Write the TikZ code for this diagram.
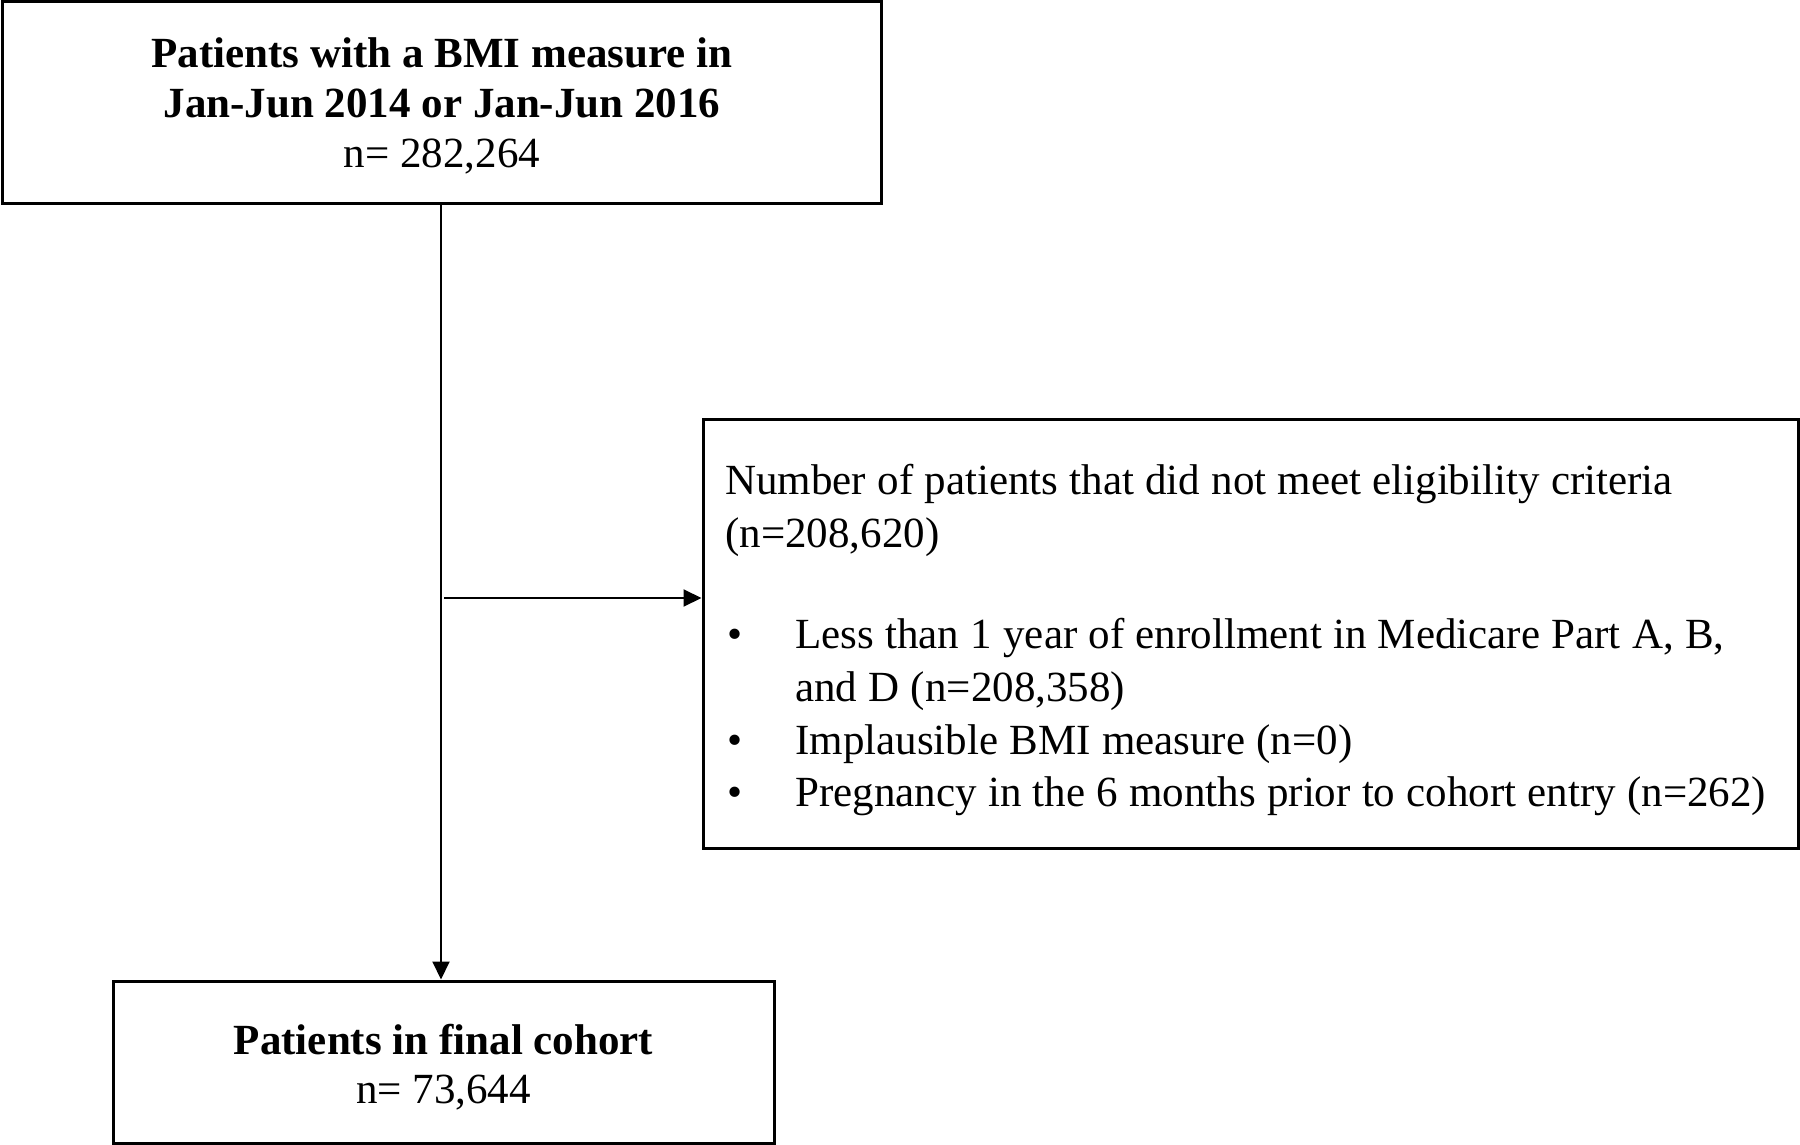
\documentclass[tikz,border=0pt]{standalone}
\usepackage{fontspec}
\setmainfont{Liberation Serif}
\newfontfamily\tightfont[WordSpace=1.045]{Liberation Serif}
\usetikzlibrary{arrows.meta}
\begin{document}
\begin{tikzpicture}[x=0.5pt,y=-0.5pt,
  box/.style={draw, line width=1.5pt, inner sep=0pt, rectangle},
  arr/.style={-{Triangle[length=9pt,width=8.5pt]}, line width=1pt},
  txt/.style={inner sep=0pt, align=center}]
\useasboundingbox (0,0) rectangle (1800,1145);
% boxes
\node[box, minimum width=439.5pt, minimum height=101pt] (top) at (442,102.5) {};
\node[box, minimum width=547.5pt, minimum height=214.5pt] (excl) at (1250.5,633.5) {};
\node[box, minimum width=330.5pt, minimum height=81pt] (final) at (443.5,1062) {};
% texts
\node[txt, font=\fontsize{21.5}{25}\selectfont] (toptext) at (442,106)
  {\textbf{Patients with a BMI measure in}\\\textbf{Jan-Jun 2014 or Jan-Jun 2016}\\n= 282,264};
\node[inner sep=0pt, anchor=west, align=left, font=\tightfont\fontsize{21.5}{26.3}\selectfont] (excltext) at (725,640)
  {Number of patients that did not meet eligibility criteria\\
   (n=208,620)\\[24.6pt]
   \makebox[35pt][l]{\hspace{1pt}\textbullet}Less than 1 year of enrollment in Medicare Part A, B,\\
   \hspace{35pt}and D (n=208,358)\\
   \makebox[35pt][l]{\hspace{1pt}\textbullet}Implausible BMI measure (n=0)\\
   \makebox[35pt][l]{\hspace{1pt}\textbullet}Pregnancy in the 6 months prior to cohort entry (n=262)};
\node[txt, font=\fontsize{21.5}{24.5}\selectfont] (finaltext) at (443.5,1067)
  {\textbf{Patients in final cohort}\\n= 73,644};
% connectors
\coordinate (vx) at (441,0);
\coordinate (hs) at (444,598);
\draw[arr] (top.south -| vx) -- (final.north -| vx);
\draw[arr] (hs) -- (excl.west |- hs);
\end{tikzpicture}
\end{document}
